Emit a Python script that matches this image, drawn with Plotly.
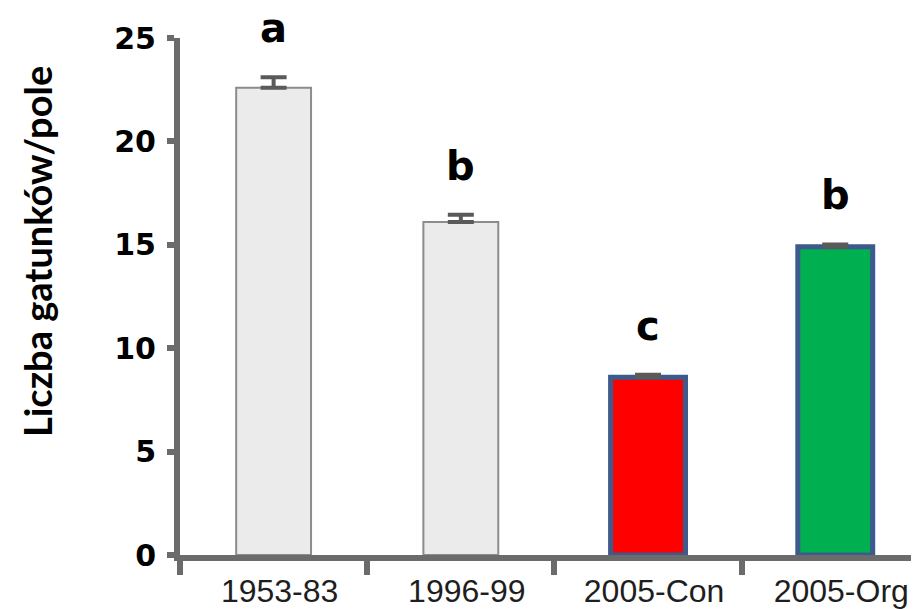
import plotly.graph_objects as go

categories = ["1953-83", "1996-99", "2005-Con", "2005-Org"]
species_per_field = [22.6, 16.1, 8.6, 14.9]
error_up = [0.5, 0.35, 0.12, 0.12]
letters = ["a", "b", "c", "b"]
fill_colors = ["#ebebeb", "#ebebeb", "#ff0000", "#00b050"]
line_colors = ["#8c8c8c", "#8c8c8c", "#3c5a8c", "#3c5a8c"]
line_widths = [2, 2, 5, 5]
y_ticks = [0, 5, 10, 15, 20, 25]

fig = go.Figure()
fig.add_trace(go.Bar(
    x=categories,
    y=species_per_field,
    width=0.4,
    marker=dict(color=fill_colors, line=dict(color=line_colors, width=line_widths)),
    error_y=dict(type="data", symmetric=False, array=error_up,
                 arrayminus=[0] * len(error_up), color="#5a5a5a",
                 thickness=4, width=13),
    showlegend=False,
))

for cat, val, err, let in zip(categories, species_per_field, error_up, letters):
    fig.add_annotation(x=cat, y=val + err, text=let, showarrow=False,
                       xref="x", yref="y", yanchor="middle", yshift=49,
                       borderpad=0,
                       font=dict(family="DejaVu Sans", size=40, color="black", weight="bold"))

fig.add_annotation(text="Liczba gatunków/pole", textangle=-90,
                   xref="paper", yref="paper", x=-0.1914, y=0.586,
                   xanchor="center", yanchor="middle", showarrow=False,
                   font=dict(family="Lato", size=38, color="black", weight="bold"))

fig.update_layout(
    width=919, height=609,
    margin=dict(l=172, r=0, t=30, b=62),
    plot_bgcolor="white", paper_bgcolor="white",
    bargap=0.6,
)
fig.update_xaxes(
    type="category", range=[-0.5, 3.49], tickson="boundaries",
    showline=True, linecolor="#6b6b6b", linewidth=6,
    ticks="outside", ticklen=14, tickwidth=6, tickcolor="#6b6b6b",
    showgrid=False, zeroline=False, ticklabelshift=6, ticklabelstandoff=3,
    tickfont=dict(family="Liberation Sans", size=32, color="#1e1e1e"),
)
fig.update_yaxes(
    range=[0, 25], tickvals=y_ticks,
    showline=True, linecolor="#6b6b6b", linewidth=6,
    ticks="outside", ticklen=7, tickwidth=6, tickcolor="#6b6b6b",
    showgrid=False, zeroline=False, ticklabelstandoff=5,
    tickfont=dict(family="DejaVu Sans", size=30, color="black", weight="bold"),
)

fig.write_html("out.html")
